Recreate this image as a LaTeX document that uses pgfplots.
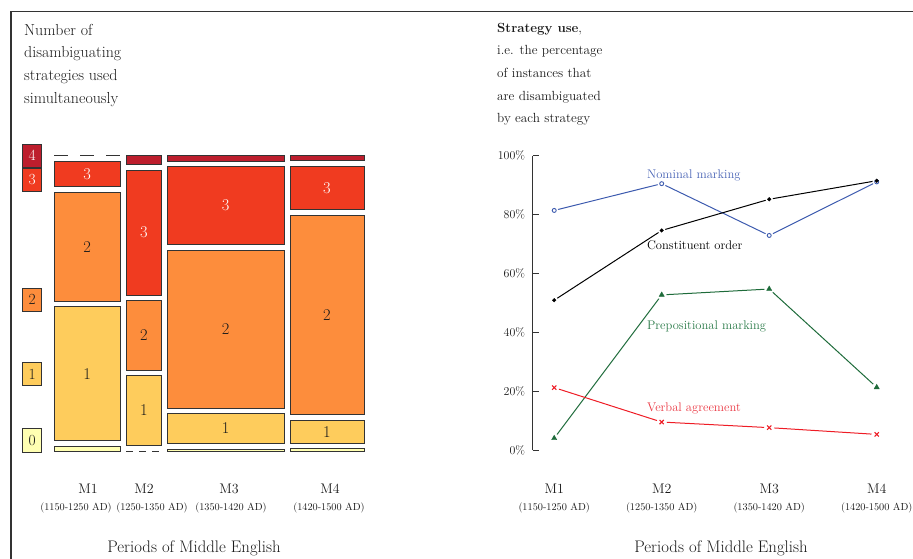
\documentclass[border=0pt]{standalone}
\usepackage{fontspec}
\usepackage{pgfplots}
\pgfplotsset{compat=1.18}

\definecolor{c0}{HTML}{FFFFB2}
\definecolor{c1}{HTML}{FECC5C}
\definecolor{c2}{HTML}{FD8D3C}
\definecolor{c3}{HTML}{F03B20}
\definecolor{c4}{HTML}{BD1E2D}
\definecolor{edge}{HTML}{333333}
\definecolor{txt}{HTML}{1A1A1A}
\definecolor{cblue}{HTML}{3D5BAF}
\definecolor{cgreen}{HTML}{1E6B3A}
\definecolor{cred}{HTML}{EE1C25}
\definecolor{lblue}{HTML}{4863B5}
\definecolor{lgreen}{HTML}{2A7A48}
\definecolor{lred}{HTML}{EA3A45}

% one mosaic tile: x0 x1 y0 y1 colour
\newcommand{\seg}[5]{\addplot[draw=edge, line width=0.8bp, fill=#5, mark=none] coordinates {(#1,#3) (#2,#3) (#2,#4) (#1,#4)} -- cycle;}

\begin{document}
\begin{tikzpicture}
\path[use as bounding box] (0,0) rectangle (913bp,-559bp);
\draw[line width=1.3bp, black!80] (11bp,-559bp) -- (11bp,-11.5bp) -- (913bp,-11.5bp);

% ---------- titles ----------
\begin{scope}[every node/.style={anchor=base west, inner sep=0pt, text=txt, font=\fontsize{16}{18}\selectfont}]
\node at (24bp,-35bp) {Number of};
\node at (24bp,-57.7bp) {disambiguating};
\node at (24bp,-80.4bp) {strategies used};
\node at (24bp,-103.1bp) {simultaneously};
\end{scope}
\begin{scope}[every node/.style={anchor=base west, inner sep=0pt, text=txt, font=\fontsize{13.3}{16}\selectfont}]
\node at (497bp,-32bp) {\textbf{Strategy use},};
\node at (497bp,-54.7bp) {i.e. the percentage};
\node at (497bp,-77.4bp) {of instances that};
\node at (497bp,-100.1bp) {are disambiguated};
\node at (497bp,-122.8bp) {by each strategy};
\end{scope}

% ---------- mosaic ----------
\begin{axis}[
  at={(54bp,-451bp)}, anchor=south west, scale only axis,
  width=310bp, height=295.3bp,
  xmin=0, xmax=106, ymin=0, ymax=108.4,
  hide axis, clip=false]
% M1
\seg{0}{22.7}{0}{1.7}{c0}
\seg{0}{22.7}{3.8}{53.0}{c1}
\seg{0}{22.7}{55.1}{94.9}{c2}
\seg{0}{22.7}{97.0}{106.3}{c3}
\addplot[draw=edge, line width=0.8bp, dash pattern=on 14bp off 12bp] coordinates {(0,108.4) (22.7,108.4)};
% M2
\addplot[draw=edge, line width=0.8bp, dash pattern=on 7bp off 6bp] coordinates {(24.7,0) (36.7,0)};
\seg{24.7}{36.7}{2.1}{27.6}{c1}
\seg{24.7}{36.7}{29.7}{55.2}{c2}
\seg{24.7}{36.7}{57.3}{103.1}{c3}
\seg{24.7}{36.7}{105.2}{108.4}{c4}
% M3
\seg{38.7}{78.7}{0}{0.7}{c0}
\seg{38.7}{78.7}{2.8}{13.7}{c1}
\seg{38.7}{78.7}{15.8}{73.8}{c2}
\seg{38.7}{78.7}{75.9}{104.3}{c3}
\seg{38.7}{78.7}{106.4}{108.4}{c4}
% M4
\seg{80.7}{106}{0}{0.8}{c0}
\seg{80.7}{106}{2.9}{11.3}{c1}
\seg{80.7}{106}{13.4}{86.6}{c2}
\seg{80.7}{106}{88.7}{104.6}{c3}
\seg{80.7}{106}{106.7}{108.4}{c4}

\begin{scope}[every node/.style={font=\fontsize{16.5}{18}\selectfont, inner sep=0pt}]
\node[text=white] at (axis cs:11.35,101.65) {3};
\node[text=txt] at (axis cs:11.35,75.0) {2};
\node[text=txt] at (axis cs:11.35,28.4) {1};
\node[text=white] at (axis cs:30.7,80.2) {3};
\node[text=txt] at (axis cs:30.7,42.45) {2};
\node[text=txt] at (axis cs:30.7,14.85) {1};
\node[text=white] at (axis cs:58.7,90.1) {3};
\node[text=txt] at (axis cs:58.7,44.8) {2};
\node[text=txt] at (axis cs:58.7,8.25) {1};
\node[text=white] at (axis cs:93.35,96.65) {3};
\node[text=txt] at (axis cs:93.35,50.0) {2};
\node[text=txt] at (axis cs:93.35,7.1) {1};
\end{scope}

\begin{scope}[every node/.style={font=\fontsize{15.5}{18}\selectfont, inner sep=0pt, draw=edge, line width=0.8bp, minimum width=19bp, minimum height=23.4bp}]
\node[fill=c4, text=white] at (axis cs:-7.45,108.4) {4};
\node[fill=c3, text=white] at (axis cs:-7.45,99.56) {3};
\node[fill=c2, text=txt] at (axis cs:-7.45,55.54) {2};
\node[fill=c1, text=txt] at (axis cs:-7.45,28.27) {1};
\node[fill=c0, text=txt] at (axis cs:-7.45,3.85) {0};
\end{scope}
\end{axis}

% left x labels and axis titles
\begin{scope}[every node/.style={text=txt, inner sep=0pt}]
\node[font=\fontsize{14}{16}\selectfont] at (88bp,-489bp) {M1};
\node[font=\fontsize{14}{16}\selectfont] at (144bp,-489bp) {M2};
\node[font=\fontsize{14}{16}\selectfont] at (229bp,-489bp) {M3};
\node[font=\fontsize{14}{16}\selectfont] at (330bp,-489bp) {M4};
\node[font=\fontsize{10.3}{12}\selectfont] at (76bp,-507.5bp) {(1150-1250 AD)};
\node[font=\fontsize{10.3}{12}\selectfont] at (152bp,-507.5bp) {(1250-1350 AD)};
\node[font=\fontsize{10.3}{12}\selectfont] at (231bp,-507.5bp) {(1350-1420 AD)};
\node[font=\fontsize{10.3}{12}\selectfont] at (329bp,-507.5bp) {(1420-1500 AD)};
\node[font=\fontsize{16.8}{18}\selectfont] at (194bp,-548bp) {Periods of Middle English};
\node[font=\fontsize{16.8}{18}\selectfont] at (721bp,-548bp) {Periods of Middle English};
\end{scope}

% ---------- line chart ----------
\begin{axis}[
  at={(532.7bp,-450bp)}, anchor=south west, scale only axis,
  width=344bp, height=294.3bp,
  xmin=0.8, xmax=4, ymin=0, ymax=100,
  axis x line=none, axis y line*=left,
  ytick={0,20,40,60,80,100},
  yticklabel={\pgfmathprintnumber{\tick}\%},
  /pgf/number format/assume math mode=true,
  tick align=inside, major tick length=6.6bp,
  every tick/.style={line width=1bp, black!80},
  axis line style={line width=1.3bp, black!80},
  yticklabel style={font=\fontsize{12}{14}\selectfont, text=txt, xshift=-4bp},
  clip=false]
% lines
\addplot[cblue, line width=1bp, mark=none] coordinates {(1,81.4) (2,90.5) (3,72.9) (4,91.1)};
\addplot[black, line width=1bp, mark=none] coordinates {(1,50.9) (2,74.6) (3,85.2) (4,91.5)};
\addplot[cgreen, line width=1bp, mark=none] coordinates {(1,4.0) (2,52.7) (3,54.7) (4,21.3)};
\addplot[cred, line width=1bp, mark=none] coordinates {(1,21.2) (2,9.5) (3,7.6) (4,5.3)};
% white halos round the marks
\addplot[color=white, only marks, mark=*, mark size=4bp] coordinates {(1,81.4) (2,90.5) (3,72.9) (4,91.1)};
\addplot[color=white, only marks, mark=*, mark size=3.6bp] coordinates {(1,50.9) (2,74.6) (3,85.2) (4,91.5)};
\addplot[color=white, only marks, mark=*, mark size=4.6bp] coordinates {(1,4.0) (2,52.7) (3,54.7) (4,21.3)};
\addplot[color=white, only marks, mark=*, mark size=5bp] coordinates {(1,21.2) (2,9.5) (3,7.6) (4,5.3)};
% marks
\addplot[cblue, only marks, mark=*, mark size=2bp, mark options={draw=cblue, fill=white, line width=0.9bp}] coordinates {(1,81.4) (2,90.5) (3,72.9) (4,91.1)};
\addplot[black, only marks, mark=*, mark size=1.8bp] coordinates {(1,50.9) (2,74.6) (3,85.2) (4,91.5)};
\addplot[cgreen, only marks, mark=triangle*, mark size=3bp] coordinates {(1,4.0) (2,52.7) (3,54.7) (4,21.3)};
\addplot[cred, only marks, mark=x, mark size=3bp, mark options={line width=1.1bp}] coordinates {(1,21.2) (2,9.5) (3,7.6) (4,5.3)};

\begin{scope}[every node/.style={anchor=base west, inner sep=0pt, font=\fontsize{12.6}{14}\selectfont}]
\node[text=lblue] at (axis cs:1.862,92.1) {Nominal marking};
\node[text=black] at (axis cs:1.862,68.1) {Constituent order};
\node[text=lgreen] at (axis cs:1.862,40.8) {Prepositional marking};
\node[text=lred] at (axis cs:1.862,13.1) {Verbal agreement};
\end{scope}

\begin{scope}[every node/.style={text=txt, inner sep=0pt}]
\node[font=\fontsize{14}{16}\selectfont] at (axis cs:1,0) [yshift=-39bp] {M1};
\node[font=\fontsize{14}{16}\selectfont] at (axis cs:2,0) [yshift=-39bp] {M2};
\node[font=\fontsize{14}{16}\selectfont] at (axis cs:3,0) [yshift=-39bp] {M3};
\node[font=\fontsize{14}{16}\selectfont] at (axis cs:4,0) [yshift=-39bp] {M4};
\node[font=\fontsize{10.3}{12}\selectfont] at (axis cs:1,0) [yshift=-57.5bp] {(1150-1250 AD)};
\node[font=\fontsize{10.3}{12}\selectfont] at (axis cs:2,0) [yshift=-57.5bp] {(1250-1350 AD)};
\node[font=\fontsize{10.3}{12}\selectfont] at (axis cs:3,0) [yshift=-57.5bp] {(1350-1420 AD)};
\node[font=\fontsize{10.3}{12}\selectfont] at (axis cs:4,0) [yshift=-57.5bp] {(1420-1500 AD)};
\end{scope}
\end{axis}
\end{tikzpicture}
\end{document}
